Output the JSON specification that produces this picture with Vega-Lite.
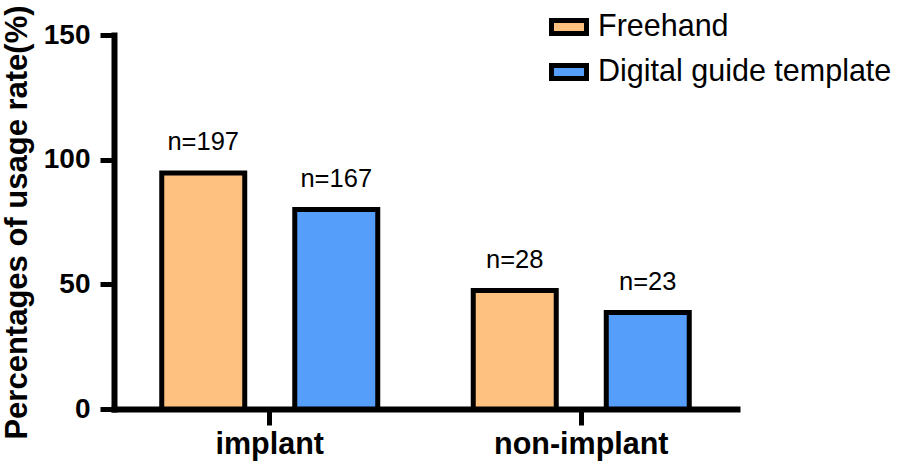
{
  "$schema": "https://vega.github.io/schema/vega-lite/v6.json",
  "width": 623,
  "height": 374,
  "autosize": {"type": "none"},
  "padding": {"left": 114, "top": 35, "right": 161, "bottom": 62},
  "background": "white",
  "config": {
    "view": {"stroke": null},
    "font": "Liberation Sans",
    "axis": {"grid": false}
  },
  "data": {
    "values": [
      {"group": "implant", "method": "Freehand", "rate": 94.7, "label": "n=197"},
      {"group": "implant", "method": "Digital guide template", "rate": 80, "label": "n=167"},
      {"group": "non-implant", "method": "Freehand", "rate": 47.5, "label": "n=28"},
      {"group": "non-implant", "method": "Digital guide template", "rate": 38.7, "label": "n=23"}
    ]
  },
  "encoding": {
    "x": {
      "field": "group",
      "type": "nominal",
      "sort": ["implant", "non-implant"],
      "scale": {"paddingInner": 0, "paddingOuter": 0},
      "axis": {
        "title": null,
        "labelAngle": 0,
        "labelFontSize": 30.5,
        "labelFontWeight": "bold",
        "labelColor": "black",
        "labelPadding": 4,
        "tickSize": 16,
        "tickWidth": 5,
        "tickColor": "black",
        "domainColor": "black",
        "domainWidth": 6,
        "domainCap": "square"
      }
    },
    "xOffset": {
      "field": "method",
      "type": "nominal",
      "sort": ["Freehand", "Digital guide template"],
      "scale": {"paddingInner": 0.376, "paddingOuter": 0.359}
    },
    "y": {
      "field": "rate",
      "type": "quantitative",
      "scale": {"domain": [0, 150], "nice": false},
      "axis": {
        "values": [0, 50, 100, 150],
        "title": "Percentages of usage rate(%)",
        "titleFontSize": 31,
        "titleFontWeight": "bold",
        "titleColor": "black",
        "titlePadding": 10,
        "labelFontSize": 28,
        "labelFontWeight": "bold",
        "labelColor": "black",
        "labelPadding": 10,
        "tickSize": 14,
        "tickWidth": 5,
        "tickColor": "black",
        "domainColor": "black",
        "domainWidth": 6,
        "domainCap": "square"
      }
    }
  },
  "layer": [
    {
      "mark": {"type": "bar", "stroke": "black", "strokeWidth": 5, "strokeJoin": "miter"},
      "encoding": {
        "color": {
          "field": "method",
          "type": "nominal",
          "sort": ["Freehand", "Digital guide template"],
          "scale": {"domain": ["Freehand", "Digital guide template"], "range": ["#FFC17F", "#559FFA"]},
          "legend": {
            "orient": "none",
            "legendX": 435,
            "legendY": -28,
            "title": null,
            "labelFontSize": 30.5,
            "labelColor": "black",
            "labelLimit": 500,
            "symbolType": "M-1,-0.37L1,-0.37L1,0.37L-1,0.37Z",
            "symbolSize": 1225,
            "symbolStrokeWidth": 5,
            "symbolStrokeColor": "black",
            "symbolOpacity": 1,
            "rowPadding": 8,
            "labelOffset": 9
          }
        }
      }
    },
    {
      "mark": {"type": "text", "baseline": "alphabetic", "dy": -23, "fontSize": 25.5, "color": "black"},
      "encoding": {"text": {"field": "label"}}
    }
  ]
}
